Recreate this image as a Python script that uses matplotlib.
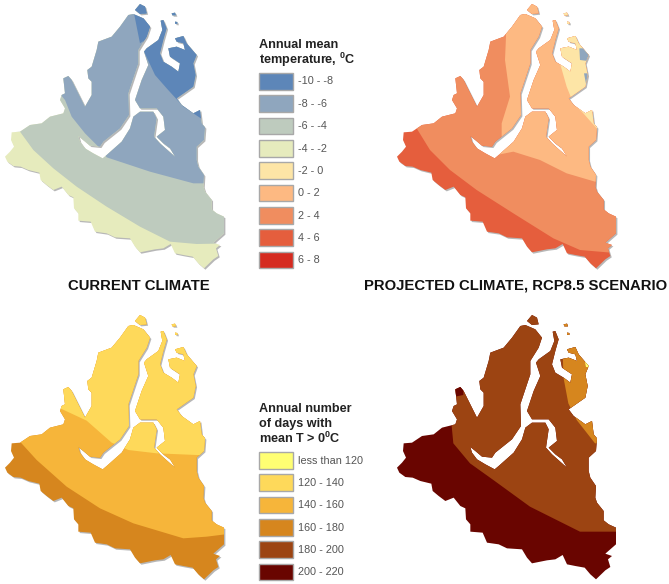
import matplotlib
matplotlib.use("Agg")
import matplotlib.pyplot as plt
import matplotlib.patheffects as pe
from matplotlib.patches import Polygon, Rectangle

plt.rcParams['font.family'] = ['Liberation Sans', 'DejaVu Sans']
plt.rcParams['mathtext.fontset'] = 'custom'
plt.rcParams['mathtext.bf'] = 'Liberation Sans:bold'
plt.rcParams['mathtext.rm'] = 'Liberation Sans'

# ---- map outline (traced, 1/3 px units) ----
mainland = [(35,397),(33,420),(42,440),(30,455),(15,470),(22,485),(40,498),(62,500),(85,510),(118,518),(122,540),
 (140,555),(160,570),(185,560),(205,585),(220,592),(222,625),(235,640),(235,662),(272,665),(285,695),(320,700),
 (345,712),(390,715),(405,740),(420,757),(465,748),(490,745),(512,732),(525,760),(550,765),(578,770),(595,790),
 (612,805),(640,778),(655,768),(648,745),(660,735),(640,728),(672,700),(672,650),(650,640),(635,628),(635,600),
 (615,575),(610,560),(612,525),(595,500),(590,480),(590,440),(612,420),(615,382),(605,370),(600,330),(580,340),
 (545,315),(530,295),(580,260),(587,225),(580,190),(590,165),(560,130),(550,108),(525,115),(530,125),(550,130),
 (555,150),(530,140),(505,145),(510,170),(540,190),(535,215),(515,200),(490,185),(480,160),(490,120),(500,85),
 (490,60),(482,62),(487,90),(475,120),(440,145),(432,155),(445,195),(425,240),(405,300),(420,325),
 (470,325),(490,350),(495,390),(470,410),(490,430),(510,445),(525,470),(480,430),(462,410),(470,355),
 (460,335),(420,335),(400,350),(390,385),(365,425),(320,465),(308,475),(280,460),(255,445),(240,425),
 (235,408),(250,420),(270,437),(300,440),(310,425),(360,385),(387,345),(385,280),(415,190),(415,150),
 (440,110),(450,80),(430,55),(400,42),(385,45),(360,80),(335,110),(295,125),(290,150),(275,200),
 (262,210),(265,235),(275,245),(275,285),(255,320),(240,290),(215,240),(205,228),(190,235),(195,280),
 (185,285),(180,300),(195,325),(190,340),(150,350),(125,370),(90,375),(60,395)]
island_bely = [(405,30),(420,12),(435,20),(440,40),(420,42)]
island_small_a = [(515,40),(525,38),(528,46),(517,46)]
island_small_b = [(525,65),(532,66),(532,72),(525,71)]
land_parts = [mainland, island_bely, island_small_a, island_small_b]

# ---- legend data ----
temp_title = ["Annual mean", "temperature, $\\mathbf{^{0}}$C"]
temp_labels = ["-10 - -8", "-8 - -6", "-6 - -4", "-4 - -2", "-2 - 0", "0 - 2", "2 - 4", "4 - 6", "6 - 8"]
temp_colors = ["#5D86B8", "#8FA6BE", "#BECBBE", "#E6EBBD", "#FDE5A6", "#FDB982", "#F08D5F", "#E55E3D", "#D52B20"]
days_title = ["Annual number", "of days with", "mean T > 0$\\mathbf{^{0}}$C"]
days_labels = ["less than 120", "120 - 140", "140 - 160", "160 - 180", "180 - 200", "200 - 220"]
days_colors = ["#FFFF73", "#FED95A", "#F6B53A", "#D6861E", "#9C4412", "#690500"]
caption_left = "CURRENT CLIMATE"
caption_right = "PROJECTED CLIMATE, RCP8.5 SCENARIO"

# ---- climate zones: (legend index, polygon) in 1/3 px of each panel's crop ----
zones_current = [
 (2, [(0,395),(60,395),(100,450),(160,505),(230,560),(320,620),(420,680),(510,725),(590,732),(700,730),(700,0),(0,0)]),
 (1, [(170,270),(195,300),(215,350),(255,400),(300,445),(320,472),(450,515),(580,550),(700,550),(700,0),(170,0)]),
 (0, [(430,150),(465,225),(500,265),(550,320),(610,360),(700,360),(700,0),(430,0)]),
 (0, [(403,0),(403,45),(420,130),(480,90),(480,0)]),
]
zones_projected = [
 (6, [(0,385),(110,385),(150,450),(210,510),(290,570),(400,640),(520,715),(600,750),(740,762),(740,0),(0,0)]),
 (5, [(378,0),(378,110),(375,180),(390,290),(365,370),(365,410),(350,465),(400,455),(480,480),(560,520),(645,545),(740,545),(740,0)]),
 (4, [(535,0),(540,190),(560,260),(580,310),(610,340),(650,385),(740,385),(740,0)]),
 (1, [(598,145),(640,145),(640,185),(600,180)]),
 (1, [(612,220),(640,220),(640,265),(620,262)]),
]
zones_days_now = [
 (2, [(0,425),(60,425),(110,480),(200,560),(300,625),(400,670),(550,715),(620,710),(700,700),(700,0),(0,0)]),
 (1, [(170,320),(260,362),(335,428),(385,450),(470,460),(590,465),(700,465),(700,0),(170,0)]),
]
zones_days_future = [
 (4, [(215,378),(220,430),(270,490),(340,540),(450,620),(600,695),(740,695),(740,0),(215,0)]),
 (3, [(545,0),(550,230),(565,310),(590,360),(645,430),(740,430),(740,0)]),
 (5, [(220,255),(250,255),(250,285),(225,290)]),
 (0, [(615,185),(632,185),(632,200),(618,200)]),
]

fig = plt.figure(figsize=(6.69, 5.84), dpi=100)
ax = fig.add_axes([0, 0, 1, 1])
ax.set_xlim(0, 669)
ax.set_ylim(584, 0)
ax.axis('off')


def scaled(points, ox, oy):
    return [(ox + x / 3, oy + y / 3) for x, y in points]


def draw_map(land_dx, land_dy, crop_x, crop_y, base, zones, palette, shadow=True):
    for part in land_parts:
        pts = scaled(part, land_dx, land_dy)
        p = Polygon(pts, closed=True, fc=base, ec='none', zorder=2)
        if shadow:
            p.set_path_effects([pe.SimplePatchShadow(offset=(1.0, -1.0), shadow_rgbFace='#888888', alpha=0.6), pe.Normal()])
        ax.add_patch(p)
        for idx, poly in zones:
            z = Polygon(scaled(poly, crop_x, crop_y), closed=True, fc=palette[idx], ec='none', zorder=3)
            ax.add_patch(z)
            clip = Polygon(pts, closed=True, transform=ax.transData)
            z.set_clip_path(clip)


draw_map(0, 0, 0, 0, temp_colors[3], zones_current, temp_colors)
draw_map(392, 0, 380, 0, temp_colors[7], zones_projected, temp_colors)
draw_map(0, 311, 0, 300, days_colors[3], zones_days_now, days_colors)
draw_map(392, 311, 380, 300, days_colors[5], zones_days_future, days_colors, shadow=False)


def draw_legend(title, title_ys, labels, colors, y0):
    for line, y in zip(title, title_ys):
        ax.text(259, y, line, fontsize=9.1, fontweight='bold', color='#222222', va='center', ha='left')
    for i, (lab, col) in enumerate(zip(labels, colors)):
        y = y0 + i * 22.35
        ax.add_patch(Rectangle((259, y), 34, 16.5, fc=col, ec='#A8A8A8', lw=1.0, zorder=2))
        ax.text(298.5, y + 8.5, lab, fontsize=7.8, color='#555555', va='center', ha='left')


draw_legend(temp_title, [45, 60], temp_labels, temp_colors, 73)
draw_legend(days_title, [409, 424, 438], days_labels, days_colors, 452)

ax.text(138.5, 285.5, caption_left, fontsize=10.7, fontweight='bold', color='#111111', ha='center', va='center')
ax.text(515.5, 285.5, caption_right, fontsize=10.7, fontweight='bold', color='#111111', ha='center', va='center')

fig.savefig('out.png', dpi=100)
